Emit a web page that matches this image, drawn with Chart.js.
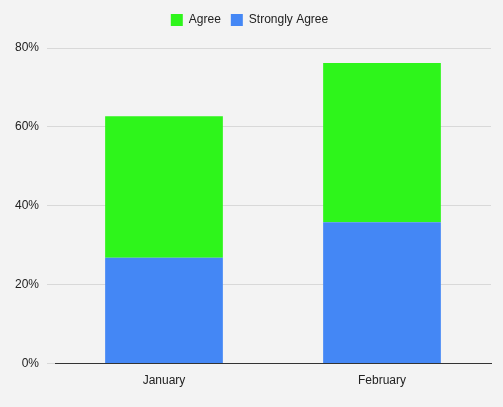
<!DOCTYPE html>
<html><head><script src="https://cdn.jsdelivr.net/npm/chart.js"></script>
<style>html,body{margin:0;background:#f3f3f3}#w{width:503px;height:407px}</style></head>
<body><div id="w"><canvas id="c"></canvas></div>
<script>
const categories=["January","February"];
const strongly=[26.8,35.8];
const agree=[35.9,40.4];
const ticks=[0,20,40,60,80];
new Chart(document.getElementById('c'),{type:'bar',
data:{labels:categories,datasets:[
{label:'Strongly Agree',data:strongly,backgroundColor:'#4487f5'},
{label:'Agree',data:agree,backgroundColor:'#2ef51b'}]},
options:{responsive:true,maintainAspectRatio:false,animation:false,
layout:{padding:{left:8,right:12,top:4,bottom:17}},
datasets:{bar:{categoryPercentage:1,barPercentage:0.54}},
plugins:{legend:{reverse:true,labels:{boxWidth:12,boxHeight:12,padding:10,font:{family:'Arial, Liberation Sans',size:12},color:'#222'}},tooltip:{enabled:false}},
scales:{x:{stacked:true,grid:{display:false},border:{color:'#333'},ticks:{color:'#222',padding:2,font:{family:'Liberation Sans',size:12}}},
y:{stacked:true,min:0,max:80,afterBuildTicks:a=>{a.ticks=ticks.map(v=>({value:v}))},grid:{color:'#d8d8d8'},border:{display:false},
afterFit:a=>{a.width=47},
ticks:{color:'#222',font:{family:'Liberation Sans',size:12},callback:v=>v+'%',padding:8}}}},
plugins:[{id:'pad',beforeInit(c){const f=c.legend.fit;c.legend.fit=function(){f.call(this);this.height+=12;}}}]});
</script></body></html>
